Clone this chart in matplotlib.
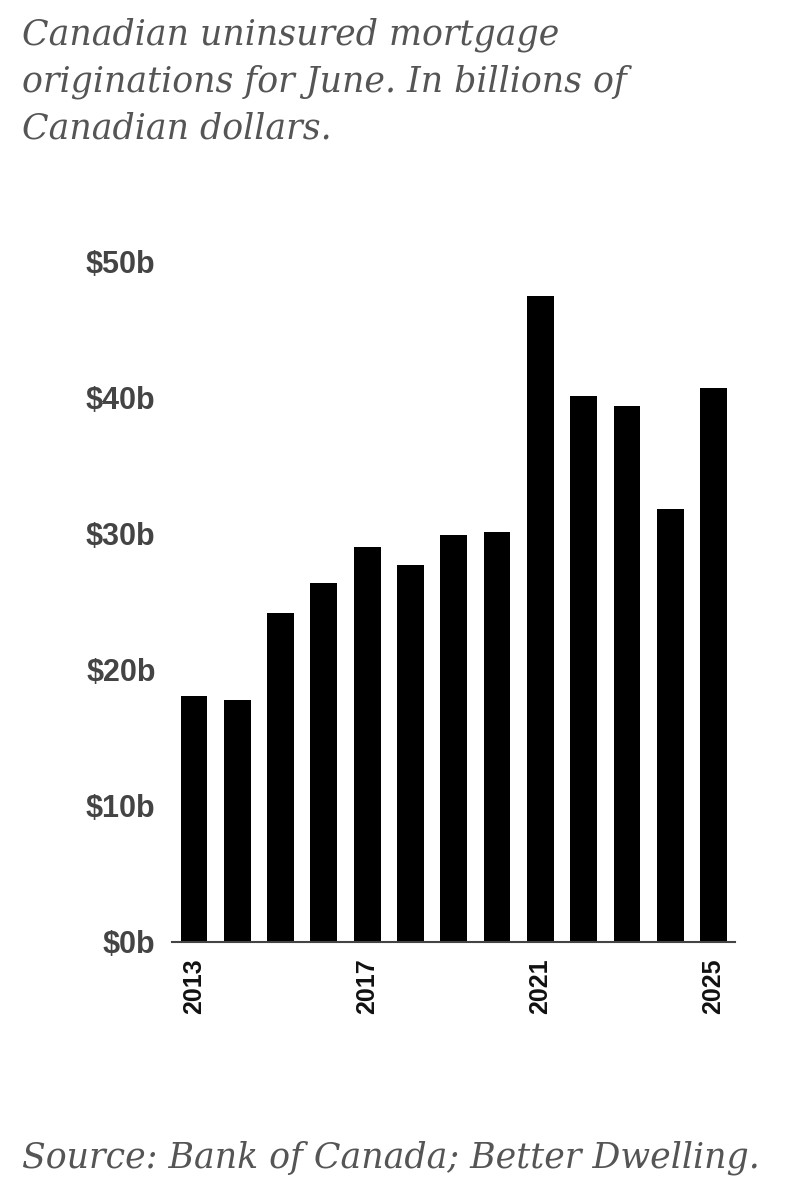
import matplotlib.pyplot as plt

years = list(range(2013, 2026))
values = [18.1, 17.8, 24.2, 26.4, 29.0, 27.7, 29.9, 30.1, 47.5, 40.1, 39.4, 31.8, 40.7]
yticks = [0, 10, 20, 30, 40, 50]
xticks = [2013, 2017, 2021, 2025]

fig = plt.figure(figsize=(7.94, 12), dpi=100)
ax = fig.add_axes([0.217, 0.215, 0.709, 0.567])

ax.bar(years, values, width=0.62, color='black')
ax.set_xlim(2012.5, 2025.5)
ax.set_ylim(0, 50)

ax.set_yticks(yticks)
ax.set_yticklabels([f'${v}b' for v in yticks])
ax.set_xticks(xticks)
ax.set_xticklabels([str(x) for x in xticks], rotation=90)
for lbl in ax.get_yticklabels():
    lbl.set_fontfamily('Liberation Sans')
    lbl.set_fontweight('bold')
    lbl.set_color('#444444')
    lbl.set_fontsize(22)
for lbl in ax.get_xticklabels():
    lbl.set_fontfamily('Liberation Sans')
    lbl.set_fontweight('bold')
    lbl.set_color('#111111')
    lbl.set_fontsize(18)
ax.tick_params(axis='both', length=0, pad=12)

for s in ['top', 'right', 'left']:
    ax.spines[s].set_visible(False)
ax.spines['bottom'].set_color('#444444')
ax.spines['bottom'].set_linewidth(1.5)

fig.text(0.028, 0.985, 'Canadian uninsured mortgage\noriginations for June. In billions of\nCanadian dollars.',
         ha='left', va='top', fontsize=25, style='italic', family='DejaVu Serif',
         color='#555555', linespacing=1.45)
fig.text(0.028, 0.035, 'Source: Bank of Canada; Better Dwelling.',
         ha='left', va='center', fontsize=25, style='italic', family='DejaVu Serif',
         color='#555555')

fig.savefig('out.png', dpi=100)
